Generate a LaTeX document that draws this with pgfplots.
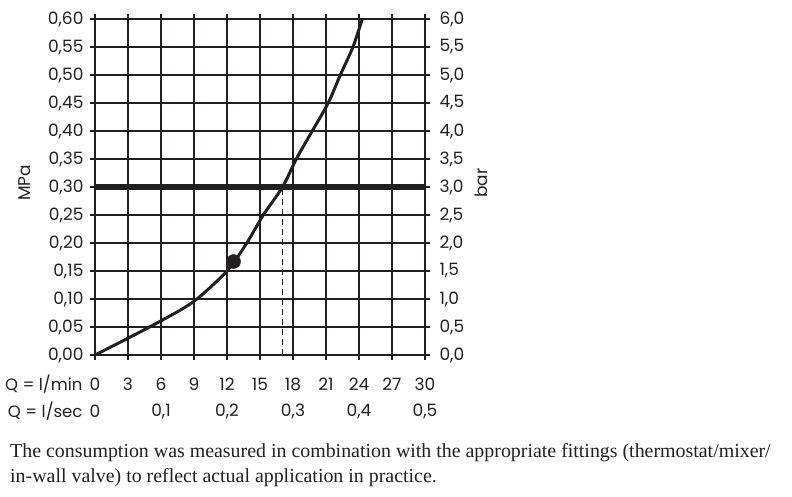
\documentclass[border=0pt]{standalone}
\usepackage{pgfplots}
\pgfplotsset{compat=1.18}
\usepackage{fontspec}
\setmainfont{Poppins}
\newfontfamily\bodyfont{Liberation Serif}
\definecolor{ink}{RGB}{35,31,32}

\begin{document}
\begin{tikzpicture}[x=1pt,y=1pt]
\useasboundingbox (0,0) rectangle (792,496);
\pgfplotsset{
  common/.style={
    at={(95pt,141pt)}, anchor=south west,
    scale only axis, width=330pt, height=336pt,
    xmin=0, xmax=30, ymin=0, ymax=0.6,
    tick align=outside, major tick length=5pt,
    tick style={ink, line width=2pt},
    ticklabel style={font=\fontsize{17}{20}\selectfont, text=ink},
    /pgf/number format/assume math mode=true,
  }
}
\begin{axis}[common,
  axis line style={ink, line width=2.6pt},
  xtick={0,3,...,30},
  xticklabel style={anchor=center, yshift=-24pt},
  ytick={0,0.05,...,0.61},
  yticklabel style={xshift=-3pt, /pgf/number format/.cd, fixed, fixed zerofill, precision=2, use comma},
  grid=major, grid style={ink, line width=2.1pt},
  clip=false,
]
% flow curve
\addplot[ink, line width=3pt, smooth, tension=0.5] coordinates {
  (0,0) (3,0.030) (6,0.061) (9,0.096) (12,0.150) (13.8,0.20)
  (15.3,0.25) (17.05,0.30) (18.3,0.35) (19.75,0.40) (21.2,0.45)
  (22.3,0.50) (23.45,0.55) (24.3,0.60)
};
\addplot[ink, line width=5.5pt] coordinates {(0,0.3) (30,0.3)};
\addplot[ink, line width=1.6pt, dash pattern=on 6pt off 4pt] coordinates {(17.05,0) (17.05,0.3)};
\addplot[ink, only marks, mark=*, mark size=7pt] coordinates {(12.6,0.167)};

\node[font=\fontsize{17}{20}\selectfont, text=ink] at (axis cs:0,0) [yshift=-56pt] {0};
\node[font=\fontsize{17}{20}\selectfont, text=ink] at (axis cs:6,0) [yshift=-56pt] {0,1};
\node[font=\fontsize{17}{20}\selectfont, text=ink] at (axis cs:12,0) [yshift=-56pt] {0,2};
\node[font=\fontsize{17}{20}\selectfont, text=ink] at (axis cs:18,0) [yshift=-56pt] {0,3};
\node[font=\fontsize{17}{20}\selectfont, text=ink] at (axis cs:24,0) [yshift=-56pt] {0,4};
\node[font=\fontsize{17}{20}\selectfont, text=ink] at (axis cs:30,0) [yshift=-56pt] {0,5};
\end{axis}
\begin{axis}[common,
  ymin=0, ymax=6,
  axis x line=none, axis y line*=right,
  axis line style={ink, line width=2.6pt},
  ytick={0,0.5,...,6.01},
  yticklabel style={xshift=6pt, /pgf/number format/.cd, fixed, fixed zerofill, precision=1, use comma},
]
\addplot[draw=none] coordinates {(0,0) (30,6)};
\end{axis}

\node[font=\fontsize{16.5}{20}\selectfont, text=ink, anchor=east] at (86,112) {Q = l/min};
\node[font=\fontsize{16.5}{20}\selectfont, text=ink, anchor=east] at (86,85) {Q = l/sec};
\node[font=\fontsize{17}{20}\selectfont, text=ink, rotate=90] at (25,313) {MPa};
\node[font=\fontsize{17}{20}\selectfont, text=ink, rotate=90] at (481,313) {bar};

\node[font=\bodyfont\fontsize{19.9}{25}\selectfont, text=ink, anchor=base west, inner sep=0pt] at (10,38.7) {The consumption was measured in combination with the appropriate fittings (thermostat/mixer/};
\node[font=\bodyfont\fontsize{19.9}{25}\selectfont, text=ink, anchor=base west, inner sep=0pt] at (10,13.7) {in-wall valve) to reflect actual application in practice.};
\end{tikzpicture}
\end{document}
